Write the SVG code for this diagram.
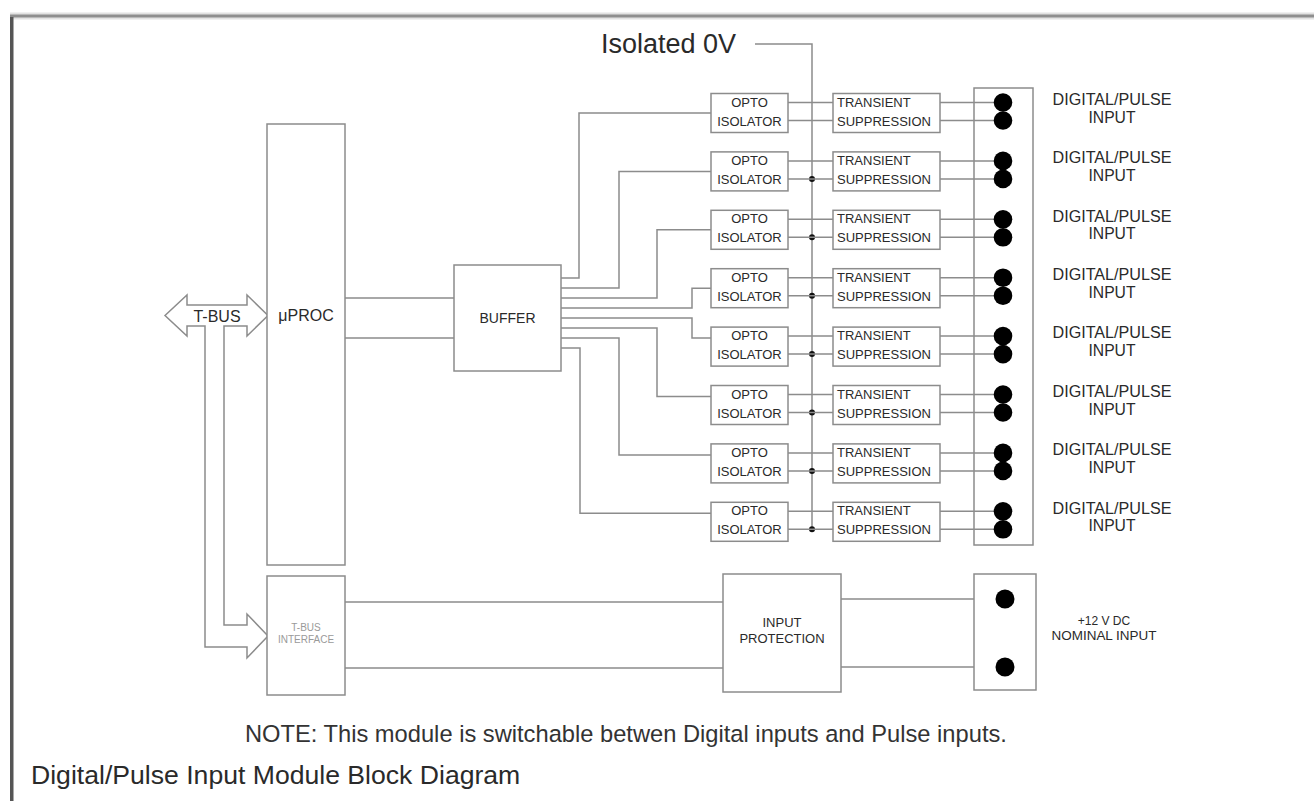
<svg xmlns="http://www.w3.org/2000/svg" width="1314" height="801" viewBox="0 0 1314 801">
<style>
.ln{fill:none;stroke:#8c8c8c;stroke-width:1.5}
.bx{fill:#fff;stroke:#8c8c8c;stroke-width:1.5}
.t{font-family:"Liberation Sans",Arial,Helvetica,sans-serif;fill:#2a2a2a}
.c{text-anchor:middle}
.s13{font-size:13px}
.s16{font-size:16px}
.dot{fill:#000}
.jn{fill:#111}
</style>
<defs>
<g id="optoRow">
<rect class="bx" x="711" y="0" width="77" height="39"/>
<text class="t c s13" x="749.5" y="13.2">OPTO</text>
<text class="t c s13" x="749.5" y="32.2">ISOLATOR</text>
<rect class="bx" x="833" y="0" width="107" height="39"/>
<text class="t s13" x="837" y="13.2">TRANSIENT</text>
<text class="t s13" x="837" y="32.2">SUPPRESSION</text>
<path class="ln" d="M788,9H833M788,27H833M940,9H1003M940,27H1003"/>
<circle class="dot" cx="1003" cy="9" r="9.3"/>
<circle class="dot" cx="1003" cy="27" r="9.3"/>
<text class="t c s16" x="1112" y="11.2" textLength="119" lengthAdjust="spacingAndGlyphs">DIGITAL/PULSE</text>
<text class="t c s16" x="1112" y="29.2" textLength="47" lengthAdjust="spacingAndGlyphs">INPUT</text>
</g>
</defs>

<!-- frame -->
<rect x="10" y="12.5" width="1304" height="7" fill="#e2e2e2"/>
<rect x="10" y="14.5" width="1304" height="3" fill="#8f8f8f"/>
<rect x="10" y="17" width="3.5" height="784" fill="#555"/>

<g id="connectors">
<path class="ln" d="M345,298H454M345,338H454"/>
<path class="ln" d="M561,278H579V113H711"/>
<path class="ln" d="M561,288H619V171.4H711"/>
<path class="ln" d="M561,298H657V229.8H711"/>
<path class="ln" d="M561,308H692V288.2H711"/>
<path class="ln" d="M561,318H692V338.1H711"/>
<path class="ln" d="M561,328H657V396.5H711"/>
<path class="ln" d="M561,338H619V454.9H711"/>
<path class="ln" d="M561,348H580V513.3H711"/>
<path class="ln" d="M755,44H812V529.3"/>
<path class="ln" d="M345,602H723M345,668H723"/>
<path class="ln" d="M841,599H1005M841,667H1005"/>
<circle class="jn" cx="812" cy="178.9" r="3"/>
<circle class="jn" cx="812" cy="237.3" r="3"/>
<circle class="jn" cx="812" cy="295.7" r="3"/>
<circle class="jn" cx="812" cy="354.1" r="3"/>
<circle class="jn" cx="812" cy="412.5" r="3"/>
<circle class="jn" cx="812" cy="470.9" r="3"/>
<circle class="jn" cx="812" cy="529.3" r="3"/>
</g>

<g id="isolated0v">
<text class="t" x="736" y="53" font-size="27" text-anchor="end">Isolated 0V</text>
</g>

<g id="tbus">
<path class="bx" d="M165,315.5L187,295V305H247V295L268,315.5L247,336V326H224V625H247V614L268,636L247,658V647H205V326H187V336Z"/>
<text class="t c s16" x="217" y="322">T-BUS</text>
</g>

<g id="uproc">
<rect class="bx" x="267" y="124" width="78" height="441"/>
<text class="t c s16" x="306" y="321">μPROC</text>
</g>

<g id="buffer">
<rect class="bx" x="454" y="265" width="107" height="106"/>
<text class="t c" font-size="14" x="507.5" y="323">BUFFER</text>
</g>

<g id="terminals">
<rect class="bx" x="974" y="88" width="59" height="457"/>
</g>

<g id="row0"><use href="#optoRow" y="93.5"/></g>
<g id="row1"><use href="#optoRow" y="151.9"/></g>
<g id="row2"><use href="#optoRow" y="210.3"/></g>
<g id="row3"><use href="#optoRow" y="268.7"/></g>
<g id="row4"><use href="#optoRow" y="327.1"/></g>
<g id="row5"><use href="#optoRow" y="385.5"/></g>
<g id="row6"><use href="#optoRow" y="443.9"/></g>
<g id="row7"><use href="#optoRow" y="502.3"/></g>

<g id="tbusInterface">
<rect class="bx" x="267" y="576" width="78" height="119"/>
<text class="t c" font-size="10" style="fill:#9a9a9a" x="306" y="630.5">T-BUS</text>
<text class="t c" font-size="10" style="fill:#9a9a9a" x="306" y="642.5">INTERFACE</text>
</g>

<g id="inputProtection">
<rect class="bx" x="723" y="574" width="118" height="118"/>
<text class="t c s13" x="782" y="626.5">INPUT</text>
<text class="t c s13" x="782" y="642.5">PROTECTION</text>
</g>

<g id="powerTerminal">
<rect class="bx" x="974" y="574" width="62" height="116"/>
<circle class="dot" cx="1005" cy="599" r="9.5"/>
<circle class="dot" cx="1005" cy="667" r="9.5"/>
<text class="t c" font-size="12" x="1104" y="624.5">+12 V DC</text>
<text class="t c" font-size="12" x="1104" y="639.5" textLength="105" lengthAdjust="spacingAndGlyphs">NOMINAL INPUT</text>
</g>

<g id="notes">
<text class="t" font-size="23.7" x="245" y="741.5" style="fill:#333">NOTE: This module is switchable betwen Digital inputs and Pulse inputs.</text>
<text class="t" font-size="26.6" x="31" y="784">Digital/Pulse Input Module Block Diagram</text>
</g>
</svg>
